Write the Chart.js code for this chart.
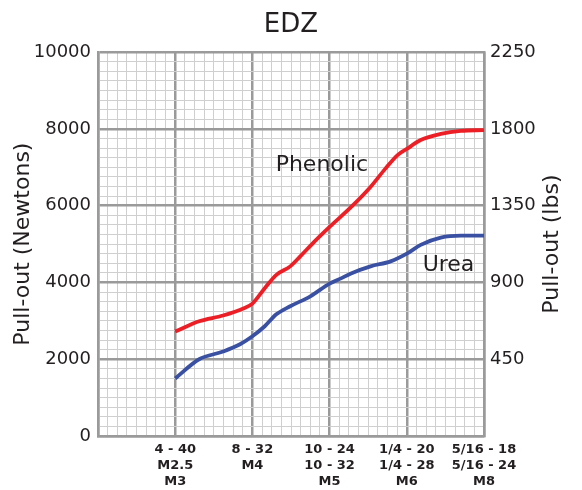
<!DOCTYPE html>
<html>
<head>
<meta charset="utf-8">
<script src="https://cdn.jsdelivr.net/npm/chart.js@4"></script>
<style>
  body { margin: 0; background: #fff; }
  #wrap { width: 582px; height: 490px; }
</style>
</head>
<body>
<div id="wrap"><canvas id="myChart"></canvas></div>
<script>
// fastener sizes, one column each (x = 1..5)
const sizePositions = [1, 2, 3, 4, 5];
const sizeLabels = [
  ["4 - 40", "M2.5", "M3"],
  ["8 - 32", "M4"],
  ["10 - 24", "10 - 32", "M5"],
  ["1/4 - 20", "1/4 - 28", "M6"],
  ["5/16 - 18", "5/16 - 24", "M8"]
];

// pull-out curves (Newtons)
const phenolicX = [1.0, 1.31, 1.62, 1.89, 2.0, 2.16, 2.31, 2.49, 2.62, 2.8, 3.0, 3.27, 3.53, 3.72, 3.88, 4.0, 4.18, 4.44, 4.7, 5.0];
const phenolicN = [2720, 2990, 3140, 3330, 3450, 3850, 4200, 4420, 4680, 5060, 5450, 5950, 6490, 6960, 7320, 7480, 7710, 7870, 7950, 7970];
const ureaX = [1.0, 1.31, 1.62, 1.84, 2.0, 2.16, 2.31, 2.49, 2.75, 3.0, 3.14, 3.27, 3.53, 3.79, 4.0, 4.18, 4.44, 4.7, 5.0];
const ureaN = [1500, 2000, 2200, 2390, 2600, 2860, 3170, 3380, 3640, 3970, 4100, 4230, 4420, 4550, 4750, 4980, 5170, 5220, 5220];

const newtonTicks = [0, 2000, 4000, 6000, 8000, 10000];
const lbsTicks = [450, 900, 1350, 1800, 2250];

const seriesNames = ["Phenolic", "Urea"];
const nameX = [2.9, 4.54];
const nameY = [7050, 4440];

const TEXT = '#231f20';
const MAJOR = '#9a9a9a';
const MINOR = '#cfcfcf';
const FONT = "'DejaVu Sans', sans-serif";

function pts(xs, ys) {
  return xs.map((x, i) => ({ x: x, y: ys[i] }));
}

const textPlugin = {
  id: 'texts',
  afterDraw(chart) {
    const ctx = chart.ctx;
    const xs = chart.scales.x, ys = chart.scales.y;
    ctx.save();
    ctx.fillStyle = TEXT;
    ctx.textAlign = 'center';
    ctx.textBaseline = 'middle';
    ctx.font = "22px " + FONT;
    seriesNames.forEach((name, i) => {
      ctx.fillText(name, xs.getPixelForValue(nameX[i]), ys.getPixelForValue(nameY[i]));
    });
    // right axis title, reads bottom to top like the left one
    const a = chart.chartArea;
    ctx.translate(552, (a.top + a.bottom) / 2);
    ctx.rotate(-Math.PI / 2);
    ctx.fillText('Pull-out (lbs)', 0, 0);
    ctx.restore();
  }
};

const ctx = document.getElementById('myChart');
new Chart(ctx, {
  type: 'line',
  data: {
    datasets: [{
      label: seriesNames[0],
      data: pts(phenolicX, phenolicN),
      borderColor: '#ed1f26',
      borderWidth: 3.8,
      pointRadius: 0,
      cubicInterpolationMode: 'monotone'
    }, {
      label: seriesNames[1],
      data: pts(ureaX, ureaN),
      borderColor: '#3a50a2',
      borderWidth: 3.8,
      pointRadius: 0,
      cubicInterpolationMode: 'monotone'
    }]
  },
  options: {
    responsive: true,
    maintainAspectRatio: false,
    animation: false,
    layout: { padding: 0 },
    plugins: {
      legend: { display: false },
      tooltip: { enabled: false },
      title: {
        display: true,
        text: 'EDZ',
        color: TEXT,
        font: { family: FONT, size: 26, weight: 'normal', lineHeight: 1.2 },
        padding: { top: 10, bottom: 11 }
      }
    },
    scales: {
      x: {
        type: 'linear',
        min: 0,
        max: 5,
        afterFit: (s) => { s.height = 54; },
        grid: {
          drawTicks: false,
          color: (c) => (c.tick && Number.isInteger(c.tick.value)) ? MAJOR : MINOR,
          lineWidth: (c) => (c.tick && Number.isInteger(c.tick.value)) ? 2.5 : 1
        },
        border: { color: MAJOR, width: 2.5 },
        ticks: {
          stepSize: 0.125,
          autoSkip: false,
          maxTicksLimit: 100,
          maxRotation: 0,
          padding: 6,
          color: TEXT,
          font: { family: FONT, size: 13, weight: 'bold', lineHeight: 1.22 },
          callback: (v) => {
            const i = sizePositions.indexOf(v);
            return i >= 0 ? sizeLabels[i] : '';
          }
        }
      },
      y: {
        position: 'left',
        min: 0,
        max: 10000,
        afterFit: (s) => { s.width = 98; },
        grid: {
          drawTicks: false,
          color: (c) => (c.tick && newtonTicks.includes(c.tick.value)) ? MAJOR : MINOR,
          lineWidth: (c) => (c.tick && newtonTicks.includes(c.tick.value)) ? 2.5 : 1
        },
        border: { color: MAJOR, width: 2.5 },
        title: {
          display: true,
          text: 'Pull-out (Newtons)',
          color: TEXT,
          font: { family: FONT, size: 22, lineHeight: 1.2 },
          padding: { top: 10, bottom: 0 }
        },
        ticks: {
          stepSize: 250,
          autoSkip: false,
          maxTicksLimit: 100,
          padding: 7,
          color: TEXT,
          font: { family: FONT, size: 18 },
          callback: (v) => newtonTicks.includes(v) ? String(v) : ''
        }
      },
      y2: {
        position: 'right',
        min: 0,
        max: 2250,
        afterFit: (s) => { s.width = 98; },
        grid: { drawOnChartArea: false, drawTicks: false },
        border: { color: MAJOR, width: 2.5 },
        ticks: {
          stepSize: 450,
          autoSkip: false,
          padding: 6,
          color: TEXT,
          font: { family: FONT, size: 18 },
          callback: (v) => lbsTicks.includes(v) ? String(v) : ''
        }
      }
    }
  },
  plugins: [textPlugin]
});
</script>
</body>
</html>
